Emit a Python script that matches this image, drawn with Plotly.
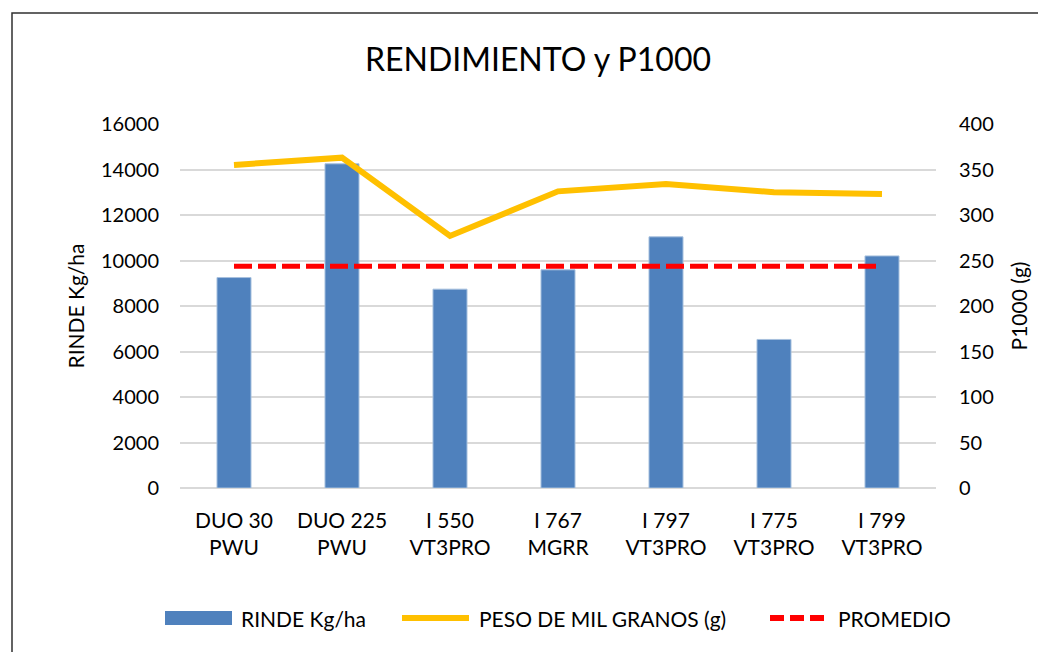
import plotly.graph_objects as go

categories = ["DUO 30<br>PWU", "DUO 225<br>PWU", "I 550<br>VT3PRO", "I 767<br>MGRR",
              "I 797<br>VT3PRO", "I 775<br>VT3PRO", "I 799<br>VT3PRO"]
rinde = [9250, 14250, 8740, 9590, 11040, 6530, 10200]
p1000 = [355, 363, 277, 326, 334, 325, 323]
promedio = [9750] * 7
legend_names = ["RINDE Kg/ha", "PESO DE MIL GRANOS (g)", "PROMEDIO"]

FONT = "Lato, Carlito, Noto Sans, sans-serif"
W, H = 1046, 652
OFF = 8  # page body margin
L, R, T, B = 172, 118, 116, 172
PW, PH = W - L - R, H - T - B


def px(x):
    return (x - OFF - L) / PW


def py(y):
    return (H - B - (y - OFF)) / PH


fig = go.Figure()
fig.add_trace(go.Bar(x=categories, y=rinde, name=legend_names[0],
                     marker=dict(color="#4F81BD", line=dict(color="#A7C0DE", width=1)),
                     yaxis="y"))
fig.add_trace(go.Scatter(x=categories, y=p1000, name=legend_names[1],
                         mode="lines", line=dict(color="#FFC000", width=6),
                         yaxis="y2"))
fig.add_trace(go.Scatter(x=categories, y=promedio, name=legend_names[2],
                         mode="lines", line=dict(color="#FF0000", width=5, dash="18px,6px"),
                         yaxis="y"))

shapes = [
    dict(type="rect", xref="paper", yref="paper",
         x0=px(12), x1=px(1100), y0=py(700), y1=py(13),
         line=dict(color="#303030", width=1.5), fillcolor="rgba(0,0,0,0)", layer="below"),
    # custom legend symbols
    dict(type="rect", xref="paper", yref="paper", x0=px(165), x1=px(232), y0=py(625), y1=py(611),
         fillcolor="#4F81BD", line=dict(width=0)),
    dict(type="line", xref="paper", yref="paper", x0=px(402), x1=px(469), y0=py(618), y1=py(618),
         line=dict(color="#FFC000", width=6)),
    dict(type="line", xref="paper", yref="paper", x0=px(770), x1=px(827), y0=py(618), y1=py(618),
         line=dict(color="#FF0000", width=6, dash="14px,6px")),
]
annotations = [
    dict(text=legend_names[0], xref="paper", yref="paper", x=px(239), y=py(618),
         xanchor="left", yanchor="middle", showarrow=False, font=dict(size=21)),
    dict(text=legend_names[1], xref="paper", yref="paper", x=px(477), y=py(618),
         xanchor="left", yanchor="middle", showarrow=False, font=dict(size=21)),
    dict(text=legend_names[2], xref="paper", yref="paper", x=px(836), y=py(618),
         xanchor="left", yanchor="middle", showarrow=False, font=dict(size=21)),
]

fig.update_layout(
    width=W, height=H,
    margin=dict(l=L, r=R, t=T, b=B, autoexpand=False),
    paper_bgcolor="white", plot_bgcolor="white",
    font=dict(family=FONT, size=20, color="#000000"),
    title=dict(text="RENDIMIENTO y P1000", x=px(538), xref="paper", xanchor="center",
               y=1 - (60 - OFF) / H, yanchor="middle",
               font=dict(family=FONT, size=32, color="#000000")),
    bargap=0.685,
    showlegend=False,
    xaxis=dict(showgrid=False, showline=False, ticks="", tickfont=dict(size=21),
               automargin=False, ticklabelstandoff=18),
    yaxis=dict(range=[0, 16000], dtick=2000, tickformat="d", showgrid=True,
               gridcolor="#D9D9D9", gridwidth=1.5,
               zeroline=True, zerolinecolor="#D9D9D9", zerolinewidth=1.5,
               title=dict(text="RINDE Kg/ha", font=dict(size=21), standoff=10),
               tickfont=dict(size=20), ticks="", automargin=False, ticklabelstandoff=20),
    yaxis2=dict(range=[0, 400], dtick=50, tickformat="d", overlaying="y", side="right",
                showgrid=False, zeroline=False,
                title=dict(text="P1000 (g)", font=dict(size=21), standoff=19),
                tickfont=dict(size=20), ticks="", automargin=False, ticklabelstandoff=22),
    shapes=shapes,
    annotations=annotations,
)

fig.write_html("out.html")
